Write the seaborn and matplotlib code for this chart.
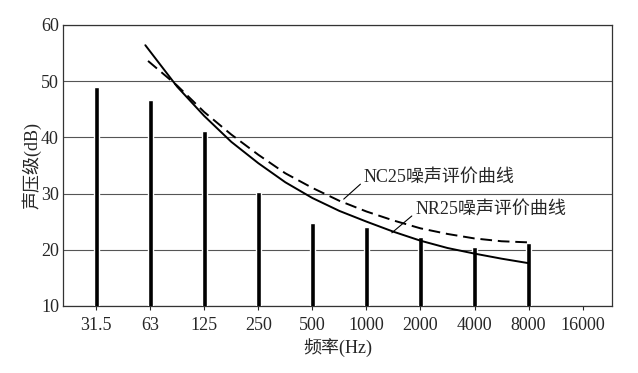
import numpy as np
import pandas as pd
import seaborn as sns
import matplotlib
matplotlib.use("Agg")
import matplotlib.pyplot as plt

# data
freqs = ["31.5", "63", "125", "250", "500", "1000", "2000", "4000", "8000", "16000"]
levels = [49.0, 46.6, 41.2, 30.3, 24.7, 24.0, 22.3, 20.5, 21.2, np.nan]

# curve points, x given as octave-band index (0 = 31.5 Hz, 1 = 63 Hz, ...)
nr25_pos = [0.91, 1.5, 2, 2.5, 3, 3.5, 4, 4.5, 5, 5.5, 6, 6.5, 7, 7.5, 8]
nr25 = [56.4, 49.0, 43.8, 39.2, 35.4, 32.0, 29.2, 26.9, 25.0, 23.2, 21.6, 20.3, 19.3, 18.4, 17.6]
nc25_pos = [0.96, 1.5, 2, 2.5, 3, 3.5, 4, 4.5, 5, 5.5, 6, 6.5, 7, 7.5, 8]
nc25 = [53.6, 49.2, 44.5, 40.5, 36.9, 33.6, 31.0, 28.7, 26.8, 25.2, 23.8, 22.8, 22.0, 21.5, 21.3]

sns.set_style("white")
plt.rcParams["font.family"] = ["Liberation Serif", "Noto Sans CJK SC"]

bars = pd.DataFrame({"freq": freqs, "level": levels})
curves = pd.DataFrame({
    "x": nr25_pos + nc25_pos,
    "level": nr25 + nc25,
    "curve": ["NR25"] * len(nr25) + ["NC25"] * len(nc25),
})

fig = plt.figure(figsize=(6.38, 3.73), dpi=100)
ax = fig.add_axes([0.099, 0.18, 0.86, 0.753])

ax.grid(axis="y", color="#555555", linewidth=0.8)
ax.set_axisbelow(True)

sns.barplot(data=bars, x="freq", y="level", order=freqs, color="black",
            width=0.09, ax=ax, zorder=3)
sns.lineplot(data=curves, x="x", y="level", style="curve", sort=True,
             dashes={"NR25": "", "NC25": (6, 3)}, color="black",
             linewidth=1.4, legend=False, ax=ax, zorder=4)

ax.set_ylim(10, 60)
ax.set_xlim(-0.61, 9.54)
ax.set_yticks([10, 20, 30, 40, 50, 60])
ax.tick_params(axis="y", length=0, labelsize=13, pad=3)
ax.tick_params(axis="x", length=3, direction="out", labelsize=13, pad=5, bottom=True)
for s in ax.spines.values():
    s.set_color("#333333")
    s.set_linewidth(0.9)

ax.set_xlabel("频率(Hz)", fontsize=13, labelpad=3)
ax.set_ylabel("声压级(dB)", fontsize=13, labelpad=0)

ax.annotate("NC25噪声评价曲线", xy=(4.58, 29.0), xytext=(4.95, 32.8),
            fontsize=13, va="center", ha="left",
            arrowprops=dict(arrowstyle="-", color="black", lw=0.8,
                            shrinkA=0, shrinkB=0, relpos=(0, 0.3)))
ax.annotate("NR25噪声评价曲线", xy=(5.47, 23.0), xytext=(5.9, 27.1),
            fontsize=13, va="center", ha="left",
            arrowprops=dict(arrowstyle="-", color="black", lw=0.8,
                            shrinkA=0, shrinkB=0, relpos=(0, 0.3)))

fig.savefig("out.png", dpi=100)
